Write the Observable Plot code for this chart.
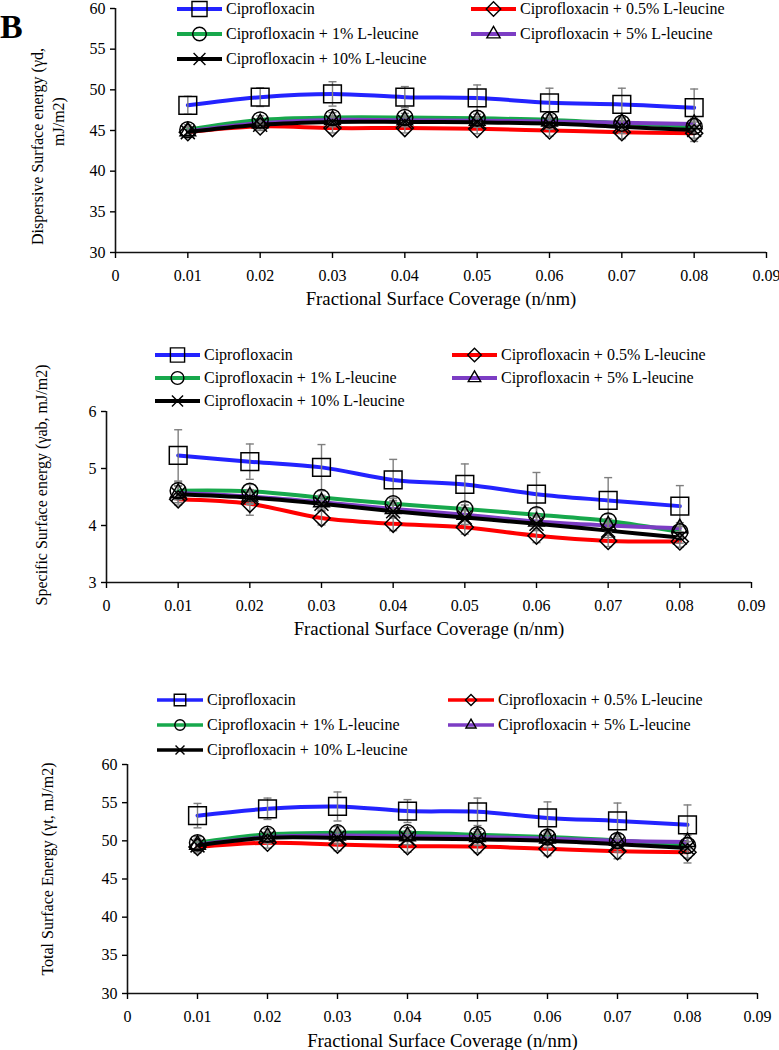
<!DOCTYPE html>
<html><head><meta charset="utf-8">
<script src="https://cdn.jsdelivr.net/npm/d3@7"></script>
<script src="https://cdn.jsdelivr.net/npm/@observablehq/plot@0.6"></script>
<style>
body{margin:0;background:#fff;}
#root{position:relative;width:779px;height:1050px;overflow:hidden;background:#fff;font-family:"Liberation Serif","Times New Roman",serif;}
.panel{position:absolute;left:0;}
.leg{position:absolute;height:20px;line-height:20px;font-size:16px;white-space:nowrap;color:#000;font-family:"Liberation Serif","Times New Roman",serif;}
.leg svg{position:absolute;left:0;top:0;overflow:visible;}
.leg span{position:absolute;top:0;}
#tag{position:absolute;left:0;top:10px;font:bold 34px "Liberation Serif",serif;line-height:34px;}
</style></head><body><div id="root"><div id="tag">B</div></div>
<script>
// ---------- data ----------
const coverage = [0.01, 0.02, 0.03, 0.04, 0.05, 0.06, 0.07, 0.08];
const xTicks = [0, 0.01, 0.02, 0.03, 0.04, 0.05, 0.06, 0.07, 0.08, 0.09];
const seriesNames = ["Ciprofloxacin", "Ciprofloxacin + 0.5% L-leucine", "Ciprofloxacin + 1% L-leucine", "Ciprofloxacin + 5% L-leucine", "Ciprofloxacin + 10% L-leucine"];
const seriesColors = ["#2323ff", "#ff0000", "#17a84c", "#7c3dc4", "#000000"];
const seriesSymbols = ["square", "diamond2", "circle", "triangle", "times"];
const xTitle = "Fractional Surface Coverage (n/nm)";

// Dispersive surface energy
const dispCipro = [48.1, 49.1, 49.5, 49.1, 49.0, 48.4, 48.2, 47.8];
const disp05 = [44.8, 45.5, 45.3, 45.3, 45.2, 45.0, 44.8, 44.65];
const disp1 = [45.1, 46.3, 46.6, 46.6, 46.5, 46.3, 45.9, 45.5];
const disp5 = [44.9, 45.9, 46.3, 46.25, 46.2, 46.1, 45.95, 45.8];
const disp10 = [44.8, 45.7, 46.05, 46.05, 46.0, 45.85, 45.45, 45.05];
const dispErrCipro = [1.1, 1.15, 1.5, 1.3, 1.6, 1.8, 2.0, 2.3];
const dispErr05 = [0.6, 0.5, 0.6, 0.6, 0.6, 0.7, 0.8, 1.0];
const dispErr1 = [0.6, 0.5, 0.6, 0.5, 0.5, 0.6, 0.7, 0.8];
const dispErr5 = [0.5, 0.4, 0.5, 0.5, 0.5, 0.5, 0.6, 0.7];
const dispErr10 = [0.6, 0.5, 0.6, 0.6, 0.6, 0.7, 0.8, 1.0];

// Specific surface energy
const specCipro = [5.23, 5.12, 5.02, 4.80, 4.72, 4.55, 4.44, 4.34];
const spec05 = [4.46, 4.38, 4.13, 4.03, 3.97, 3.82, 3.73, 3.72];
const spec1 = [4.61, 4.60, 4.49, 4.38, 4.29, 4.19, 4.08, 3.89];
const spec5 = [4.57, 4.51, 4.41, 4.29, 4.19, 4.07, 4.00, 3.95];
const spec10 = [4.55, 4.49, 4.38, 4.25, 4.14, 4.03, 3.91, 3.79];
const specErrCipro = [0.45, 0.31, 0.40, 0.36, 0.36, 0.38, 0.40, 0.36];
const specErr05 = [0.10, 0.20, 0.12, 0.12, 0.12, 0.12, 0.10, 0.10];
const specErr1 = [0.15, 0.12, 0.12, 0.10, 0.12, 0.12, 0.12, 0.10];
const specErr5 = [0.12, 0.12, 0.12, 0.12, 0.12, 0.12, 0.12, 0.10];
const specErr10 = [0.15, 0.12, 0.12, 0.12, 0.12, 0.12, 0.12, 0.10];

// Total surface energy
const totCipro = [53.3, 54.2, 54.5, 53.9, 53.8, 53.0, 52.6, 52.1];
const tot05 = [49.2, 49.75, 49.5, 49.3, 49.25, 48.95, 48.65, 48.5];
const tot1 = [49.75, 50.85, 51.05, 51.05, 50.8, 50.5, 50.05, 49.4];
const tot5 = [49.5, 50.5, 50.7, 50.6, 50.5, 50.3, 50.0, 49.85];
const tot10 = [49.4, 50.4, 50.4, 50.3, 50.2, 50.0, 49.55, 49.05];
const totErrCipro = [1.6, 1.4, 1.9, 1.5, 1.8, 2.1, 2.35, 2.6];
const totErr05 = [0.8, 0.7, 0.8, 0.8, 0.8, 0.9, 1.0, 1.4];
const totErr1 = [0.8, 0.7, 0.8, 0.7, 0.7, 0.8, 0.9, 1.0];
const totErr5 = [0.7, 0.6, 0.7, 0.7, 0.7, 0.7, 0.8, 0.9];
const totErr10 = [0.8, 0.7, 0.8, 0.8, 0.8, 0.9, 1.0, 1.3];

// ---------- helpers ----------
function table(valueArrays, errArrays) {
  const rows = [];
  valueArrays.forEach((vals, s) => vals.forEach((v, i) => rows.push({
    series: seriesNames[s], s, x: coverage[i], y: v, lo: v - errArrays[s][i], hi: v + errArrays[s][i]
  })));
  return rows;
}
const cap = {draw(ctx) { ctx.moveTo(-4, 0); ctx.lineTo(4, 0); }};
const markerR = {square: 10, diamond2: 7.7, circle: 8, triangle: 5.8, times: 6.4};
const d3Sym = {square: d3.symbolSquare, diamond2: d3.symbolDiamond2, circle: d3.symbolCircle, triangle: d3.symbolTriangle, times: d3.symbolTimes};
const root = document.getElementById("root");
const serif = '"Liberation Serif","Times New Roman",serif';

function panel(cfg) {
  const data = table(cfg.values, cfg.errors);
  const marks = [
    Plot.ruleY([cfg.yDomain[0]], {stroke: "#111", strokeWidth: 1.6}),
    Plot.ruleX([0], {stroke: "#111", strokeWidth: 1.6}),
    Plot.axisX({ticks: xTicks, tickFormat: d => d === 0 ? "0" : d.toFixed(2), tickSize: 6, tickPadding: 11, fontSize: 16, fontFamily: serif, label: null, strokeWidth: 1.4}),
    Plot.axisY({ticks: cfg.yTicks, tickFormat: d => String(d), tickSize: 5, tickPadding: 5, fontSize: 16, fontFamily: serif, label: null, strokeWidth: 1.4}),
  ];
  seriesNames.forEach((n, s) => marks.push(Plot.line(data.filter(d => d.s === s), {x: "x", y: "y", stroke: seriesColors[s], strokeWidth: 4, curve: "catmull-rom"})));
  marks.push(Plot.ruleX(data, {x: "x", y1: "lo", y2: "hi", stroke: "#7f7f7f", strokeWidth: 1.4}));
  marks.push(Plot.dot(data, {x: "x", y: "hi", symbol: cap, r: 2, stroke: "#7f7f7f", strokeWidth: 1.4, fill: "none"}));
  marks.push(Plot.dot(data, {x: "x", y: "lo", symbol: cap, r: 2, stroke: "#7f7f7f", strokeWidth: 1.4, fill: "none"}));
  seriesNames.forEach((n, s) => marks.push(Plot.dot(data.filter(d => d.s === s), {
    x: "x", y: "y", symbol: seriesSymbols[s], r: markerR[seriesSymbols[s]], stroke: "#000", strokeWidth: 1.5, fill: "none"
  })));
  marks.push(Plot.text([xTitle], {frameAnchor: "bottom", dy: cfg.titleDy, fontSize: 18.8, fontFamily: serif, lineAnchor: "middle"}));
  cfg.yLabels.forEach(l => marks.push(Plot.text([l.text], {frameAnchor: "left", rotate: -90, dx: l.dx, dy: l.dy, fontSize: 16, fontFamily: serif, lineAnchor: "middle", textAnchor: "middle"})));
  const svg = Plot.plot({
    width: 779, height: cfg.height,
    marginLeft: cfg.mL, marginRight: cfg.mR, marginTop: cfg.mT, marginBottom: cfg.mB,
    x: {domain: [0, 0.09]},
    y: {domain: cfg.yDomain},
    style: {fontFamily: serif, fontSize: "16px", color: "#000", background: "transparent", overflow: "visible"},
    marks
  });
  svg.classList.add("panel");
  svg.style.top = cfg.top + "px";
  root.appendChild(svg);
  // legend
  const slots = [[0, 0], [1, 0], [0, 1], [1, 1], [0, 2]];
  seriesNames.forEach((n, s) => {
    const [col, row] = slots[s];
    const lx = cfg.legX[col], ly = cfg.legY[row];
    const div = document.createElement("div");
    div.className = "leg";
    div.style.left = lx + "px";
    div.style.top = (ly - 10) + "px";
    const w = cfg.legLine;
    const r = markerR[seriesSymbols[s]] * cfg.legScale;
    const path = d3.symbol(d3Sym[seriesSymbols[s]], Math.PI * r * r)();
    div.innerHTML = `<svg width="${w}" height="20"><line x1="0" x2="${w}" y1="10" y2="10" stroke="${seriesColors[s]}" stroke-width="${cfg.legStroke}"/><path d="${path}" transform="translate(${w / 2},10)" fill="none" stroke="#000" stroke-width="1.4"/></svg><span style="left:${w + 4}px">${n}</span>`;
    root.appendChild(div);
  });
}

panel({
  top: -18, height: 338, mL: 115, mR: 13, mT: 26, mB: 68, titleDy: 46,
  yDomain: [30, 60], yTicks: [30, 35, 40, 45, 50, 55, 60],
  values: [dispCipro, disp05, disp1, disp5, disp10],
  errors: [dispErrCipro, dispErr05, dispErr1, dispErr5, dispErr10],
  yLabels: [{text: "Dispersive Surface energy (γd,", dx: -78, dy: 16}, {text: "mJ/m2)", dx: -57, dy: -9}],
  legX: [177, 471], legY: [9, 34, 59], legLine: 45, legScale: 0.85, legStroke: 4
});
panel({
  top: 330, height: 320, mL: 106, mR: 28, mT: 81, mB: 68, titleDy: 46,
  yDomain: [3, 6], yTicks: [3, 4, 5, 6],
  values: [specCipro, spec05, spec1, spec5, spec10],
  errors: [specErrCipro, specErr05, specErr1, specErr5, specErr10],
  yLabels: [{text: "Specific Surface energy (γab, mJ/m2)", dx: -65, dy: -12}],
  legX: [155, 452], legY: [355, 378, 401], legLine: 45, legScale: 0.8, legStroke: 4
});
panel({
  top: 680, height: 370, mL: 127, mR: 22, mT: 84, mB: 57, titleDy: 47,
  yDomain: [30, 60], yTicks: [30, 35, 40, 45, 50, 55, 60],
  values: [totCipro, tot05, tot1, tot5, tot10],
  errors: [totErrCipro, totErr05, totErr1, totErr5, totErr10],
  yLabels: [{text: "Total Surface Energy (γt, mJ/m2)", dx: -80, dy: -10}],
  legX: [157, 448], legY: [700, 725, 750], legLine: 46, legScale: 0.65, legStroke: 3.5
});
</script></body></html>
